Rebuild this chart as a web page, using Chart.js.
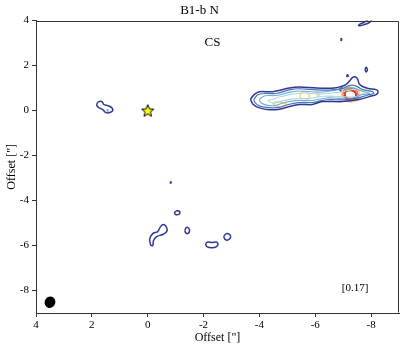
<!DOCTYPE html>
<html>
<head>
<meta charset="utf-8">
<script src="https://cdn.jsdelivr.net/npm/chart.js@4"></script>
<style>
  html, body { margin: 0; padding: 0; background: #fff; }
  #wrap { width: 407px; height: 349px; }
</style>
</head>
<body>
<div id="wrap"><canvas id="myChart" width="407" height="349"></canvas></div>
<script>
// tick labels (arcsec offsets)
const xTicks = [4, 2, 0, -2, -4, -6, -8];
const yTicks = [-8, -6, -4, -2, 0, 2, 4];

// contour levels, lowest to highest (RdYlBu_r like)
const levelColors = ['#313695', '#4575b4', '#74add1', '#abd9e9', '#fdd27a', '#f46d43', '#d73027'];

// main CS ridge, west of the source
const ridge1 = [[-3.68,0.5],[-3.82,0.72],[-4.0,0.84],[-4.46,0.84],[-5.07,1.0],[-5.43,1.05],[-6.04,1.0],[-6.68,1.0],[-6.93,1.07],[-7.1,1.15],[-7.22,1.3],[-7.32,1.45],[-7.42,1.5],[-7.52,1.4],[-7.57,1.2],[-7.68,1.08],[-7.9,0.98],[-8.18,0.93],[-8.25,0.84],[-8.18,0.71],[-7.93,0.62],[-7.57,0.49],[-6.96,0.4],[-6.25,0.4],[-5.89,0.27],[-5.43,0.27],[-5.07,0.18],[-4.71,0.06],[-4.36,0.04],[-4.0,0.12],[-3.78,0.27],[-3.68,0.5]];
const ridge2 = [[-3.8,0.5],[-3.94,0.7],[-4.2,0.76],[-4.6,0.76],[-5.07,0.92],[-5.45,0.97],[-6.04,0.92],[-6.6,0.92],[-7.0,1.0],[-7.25,1.12],[-7.45,1.1],[-7.7,0.93],[-8.05,0.84],[-8.1,0.76],[-7.85,0.68],[-7.5,0.55],[-7.0,0.48],[-6.4,0.48],[-5.9,0.36],[-5.4,0.35],[-5.0,0.26],[-4.7,0.14],[-4.35,0.13],[-4.02,0.2],[-3.84,0.35],[-3.8,0.5]];
const ridge3 = [[-4.0,0.5],[-4.2,0.66],[-4.6,0.67],[-5.1,0.82],[-5.5,0.87],[-6.05,0.82],[-6.5,0.86],[-6.9,0.95],[-7.3,1.02],[-7.7,0.86],[-7.95,0.76],[-7.65,0.7],[-7.3,0.52],[-6.9,0.54],[-6.4,0.56],[-5.9,0.45],[-5.3,0.44],[-4.9,0.36],[-4.6,0.23],[-4.3,0.23],[-4.05,0.35],[-4.0,0.5]];
const ridge4 = [[-4.3,0.45],[-4.6,0.56],[-5.1,0.72],[-5.6,0.78],[-6.1,0.74],[-6.6,0.78],[-6.95,0.84],[-7.45,0.94],[-7.75,0.8],[-7.45,0.62],[-6.9,0.62],[-6.3,0.64],[-5.8,0.54],[-5.2,0.52],[-4.8,0.42],[-4.5,0.33],[-4.3,0.45]];
const yellow1 = [[-4.48,0.3],[-4.6,0.38],[-4.85,0.35],[-4.98,0.27],[-4.85,0.18],[-4.6,0.2],[-4.48,0.3]];
const yellow2 = [[-5.45,0.62],[-5.5,0.8],[-5.65,0.84],[-5.78,0.7],[-5.75,0.5],[-5.55,0.44],[-5.45,0.62]];
const yellow3 = [[-6.05,0.67],[-6.1,0.72],[-6.15,0.67],[-6.1,0.62],[-6.05,0.67]];
const yellowPeak = [[-6.93,0.7],[-7.0,0.97],[-7.3,1.04],[-7.55,0.9],[-7.6,0.62],[-7.45,0.42],[-7.12,0.42],[-6.93,0.7]];
const orangePeak = [[-6.98,0.7],[-7.05,0.92],[-7.3,0.98],[-7.5,0.85],[-7.52,0.6],[-7.35,0.46],[-7.1,0.47],[-6.98,0.7]];
const redPeak = [[-7.05,0.71],[-7.1,0.86],[-7.28,0.9],[-7.44,0.8],[-7.45,0.6],[-7.3,0.53],[-7.12,0.55],[-7.05,0.71]];
const hole1 = [[-6.88,0.93],[-6.93,1.02],[-6.98,0.93],[-6.93,0.84],[-6.88,0.93]];

// small islands
const dotRidge = [[-7.12,1.55],[-7.15,1.59],[-7.18,1.55],[-7.15,1.51],[-7.12,1.55]];
const ringNE = [[-7.78,1.82],[-7.82,1.93],[-7.87,1.82],[-7.82,1.72],[-7.78,1.82]];
const arcTop = [[-7.9,4.05],[-7.75,3.92],[-7.6,3.84],[-7.55,3.78],[-7.7,3.8],[-7.95,3.92],[-8.02,4.05]];
const dotTop = [[-6.91,3.16],[-6.93,3.2],[-6.95,3.16],[-6.93,3.12],[-6.91,3.16]];
const blobEast = [[1.82,0.31],[1.75,0.4],[1.64,0.4],[1.57,0.27],[1.43,0.22],[1.29,0.13],[1.25,0.0],[1.36,-0.09],[1.5,-0.09],[1.61,0.04],[1.75,0.13],[1.82,0.22],[1.82,0.31]];
const blobEastIn = [[1.4,0.0],[1.43,0.04],[1.46,0.0],[1.43,-0.04],[1.4,0.0]];
const dotSouth = [[-0.8,-3.2],[-0.82,-3.17],[-0.84,-3.2],[-0.82,-3.23],[-0.8,-3.2]];
const ringS1 = [[-0.95,-4.53],[-1.05,-4.45],[-1.15,-4.5],[-1.13,-4.6],[-1.0,-4.62],[-0.95,-4.53]];
const ringS2 = [[-1.33,-5.33],[-1.38,-5.2],[-1.46,-5.22],[-1.5,-5.35],[-1.45,-5.46],[-1.36,-5.44],[-1.33,-5.33]];
const blobS = [[-0.11,-6.0],[-0.07,-5.73],[-0.18,-5.47],[-0.36,-5.38],[-0.46,-5.16],[-0.57,-5.07],[-0.68,-5.2],[-0.68,-5.38],[-0.54,-5.51],[-0.32,-5.6],[-0.21,-5.78],[-0.18,-6.0],[-0.11,-6.0]];
const ringS3 = [[-2.07,-5.92],[-2.15,-5.84],[-2.3,-5.87],[-2.45,-5.84],[-2.52,-5.93],[-2.45,-6.06],[-2.3,-6.1],[-2.12,-6.05],[-2.07,-5.92]];
const ringS4 = [[-2.72,-5.6],[-2.8,-5.48],[-2.93,-5.5],[-2.97,-5.62],[-2.9,-5.74],[-2.78,-5.74],[-2.72,-5.6]];

// [contour, level index]
const contours = [
  [ridge1, 0], [ridge2, 1], [ridge3, 2], [ridge4, 3],
  [yellow1, 4], [yellow2, 4], [yellow3, 4], [yellowPeak, 4], [orangePeak, 5], [redPeak, 6],
  [hole1, 0], [dotRidge, 0], [ringNE, 0], [arcTop, 0], [dotTop, 0],
  [blobEast, 0], [blobEastIn, 2], [dotSouth, 0],
  [ringS1, 0], [ringS2, 0], [blobS, 0], [ringS3, 0], [ringS4, 0]
];
const levelWidths = [1.5, 1.2, 1.1, 1.1, 1.4, 1.6, 2];

const source = [[0, 0]];
const beam = { x: 3.5, y: -8.52, major: 0.52, minor: 0.38, angle: 20 }; // arcsec, deg
const lineLabel = { text: 'CS', x: -2.32, y: 3.02 };
const rmsLabel = { text: '[0.17]', x: -7.43, y: -7.91 };

function makeStar(size) {
  const c = document.createElement('canvas');
  c.width = size; c.height = size;
  const g = c.getContext('2d');
  g.beginPath();
  for (let i = 0; i < 10; i++) {
    const r = i % 2 ? size * 0.2 : size * 0.46;
    const a = -Math.PI / 2 + i * Math.PI / 5;
    g.lineTo(size / 2 + r * Math.cos(a), size / 2 + 0.5 + r * Math.sin(a));
  }
  g.closePath();
  g.fillStyle = '#ffff00';
  g.fill();
  g.lineWidth = 1;
  g.strokeStyle = '#000';
  g.stroke();
  return c;
}

const serif = 'Liberation Serif';

const datasets = contours.map(function(c) {
  return {
    data: c[0].map(p => ({ x: p[0], y: p[1] })),
    showLine: true,
    borderColor: levelColors[c[1]],
    borderWidth: levelWidths[c[1]],
    pointRadius: 0,
    tension: 0.3,
    fill: false
  };
});
datasets.push({
  data: source.map(p => ({ x: p[0], y: p[1] })),
  pointStyle: makeStar(14),
  pointRadius: 7,
  showLine: false
});

// frame, beam and labels
const extras = {
  id: 'extras',
  afterDatasetsDraw(chart) {
    const ctx = chart.ctx, a = chart.chartArea;
    const xs = chart.scales.x, ys = chart.scales.y;
    ctx.save();
    // beam ellipse
    const rx = Math.abs(xs.getPixelForValue(0) - xs.getPixelForValue(beam.minor / 2));
    const ry = Math.abs(ys.getPixelForValue(0) - ys.getPixelForValue(beam.major / 2));
    ctx.beginPath();
    ctx.ellipse(xs.getPixelForValue(beam.x), ys.getPixelForValue(beam.y), rx, ry, beam.angle * Math.PI / 180, 0, 2 * Math.PI);
    ctx.fillStyle = '#000';
    ctx.fill();
    // labels
    ctx.fillStyle = '#000';
    ctx.textAlign = 'center';
    ctx.textBaseline = 'middle';
    ctx.font = '13px "' + serif + '"';
    ctx.fillText(lineLabel.text, xs.getPixelForValue(lineLabel.x), ys.getPixelForValue(lineLabel.y));
    ctx.font = '11px "' + serif + '"';
    ctx.fillText(rmsLabel.text, xs.getPixelForValue(rmsLabel.x), ys.getPixelForValue(rmsLabel.y));
    // top and right frame
    ctx.strokeStyle = '#333';
    ctx.lineWidth = 1;
    ctx.beginPath();
    ctx.moveTo(Math.round(a.left) + 0.5, Math.round(a.top) + 0.5);
    ctx.lineTo(Math.round(a.right) - 0.5, Math.round(a.top) + 0.5);
    ctx.lineTo(Math.round(a.right) - 0.5, Math.round(a.bottom) - 0.5);
    ctx.stroke();
    ctx.restore();
  }
};

const ctx = document.getElementById('myChart');

new Chart(ctx, {
  type: 'scatter',
  data: { datasets: datasets },
  plugins: [extras],
  options: {
    responsive: false,
    animation: false,
    layout: { padding: { left: 0, right: 8, top: 0, bottom: 0 } },
    plugins: {
      legend: { display: false },
      tooltip: { enabled: false },
      title: {
        display: true,
        text: 'B1-b N',
        color: '#000',
        font: { family: serif, size: 13, weight: 'normal' },
        padding: { top: 3, bottom: 2 }
      }
    },
    scales: {
      x: {
        type: 'linear',
        min: -9,
        max: 4,
        reverse: true,
        afterBuildTicks: s => { s.ticks = xTicks.map(v => ({ value: v })); },
        afterFit: s => { s.height = 36; },
        grid: { display: true, drawOnChartArea: false, drawTicks: true, tickLength: 4, color: '#333' },
        border: { display: true, color: '#333', width: 1 },
        ticks: { color: '#000', padding: 2, font: { family: serif, size: 11 }, maxRotation: 0 },
        title: { display: true, text: 'Offset ["]', color: '#000', font: { family: serif, size: 12 }, padding: { top: 0, bottom: 4 } }
      },
      y: {
        type: 'linear',
        min: -9,
        max: 4,
        afterBuildTicks: s => { s.ticks = yTicks.map(v => ({ value: v })); },
        afterFit: s => { s.width = 36; },
        grid: { display: true, drawOnChartArea: false, drawTicks: true, tickLength: 4, color: '#333' },
        border: { display: true, color: '#333', width: 1 },
        ticks: { color: '#000', padding: 3, font: { family: serif, size: 11 } },
        title: { display: true, text: 'Offset ["]', color: '#000', font: { family: serif, size: 12 }, padding: { top: 5, bottom: 0 } }
      }
    }
  }
});
</script>
</body>
</html>
